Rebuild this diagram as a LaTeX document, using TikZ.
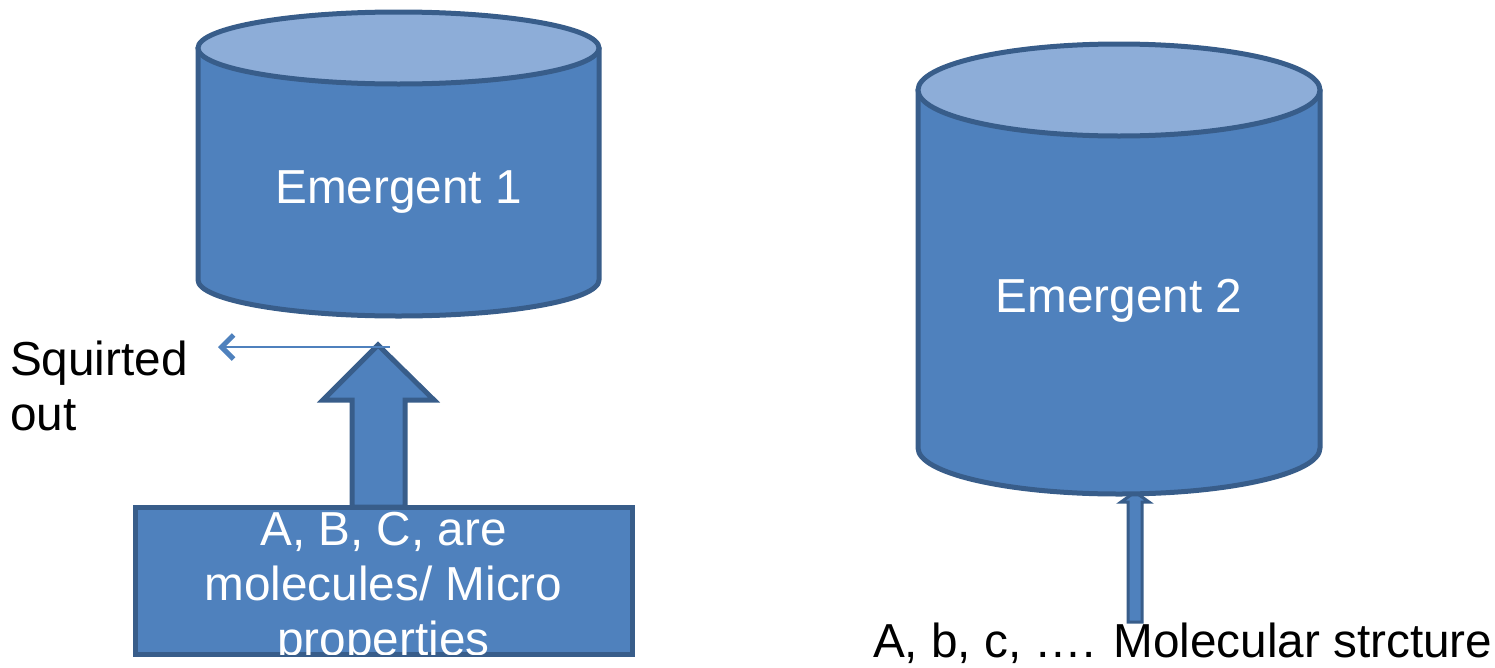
\documentclass[tikz,border=0pt]{standalone}
\usepackage{fontspec}
\setmainfont{Liberation Sans}
\usetikzlibrary{arrows.meta}
\definecolor{cylblue}{HTML}{4F81BD}
\definecolor{cylline}{HTML}{385D8A}
\definecolor{cyltopblue}{HTML}{8DADD8}
\tikzset{
  cylbody/.style={fill=cylblue,draw=cylline,line width=5pt,line join=round},
  cyltop/.style={fill=cyltopblue,draw=cylline,line width=5pt},
  blockarrow/.style={fill=cylblue,draw=cylline,line width=5pt,line join=miter},
  propbox/.style={fill=cylblue,draw=cylline,line width=5pt,minimum width=497pt,minimum height=147pt,inner sep=0pt},
  bigtext/.style={font=\fontsize{47.7}{55}\selectfont,inner sep=0pt,outer sep=0pt}
}
\begin{document}
\begin{tikzpicture}[x=1pt,y=-1pt]
\useasboundingbox (0,0) rectangle (1495,667);
% Thin block arrow into the right cylinder
\coordinate (molecarrow) at (1135,492);
\path[blockarrow,line width=3pt] (1128,622) -- (1128,502) -- (1121,502) -- (molecarrow) -- (1149,502) -- (1142,502) -- (1142,622) -- cycle;
% Cylinder left
\path[cylbody] (198,48) -- (198,280) arc[start angle=180,end angle=0,x radius=200.5,y radius=36] -- (599,48) -- cycle;
\path[cyltop] (398.5,48) ellipse[x radius=200.5,y radius=36];
% Cylinder right
\path[cylbody] (918,90) -- (918,448) arc[start angle=180,end angle=0,x radius=201,y radius=46] -- (1320,90) -- cycle;
\path[cyltop] (1119,90) ellipse[x radius=201,y radius=46];
% Labels in cylinders
\node[bigtext,text=white,anchor=base] (em1) at (398.5,203) {Emergent 1};
\node[bigtext,text=white,anchor=base] (em2) at (1119,312) {Emergent 2};
% Block arrow up from box
\coordinate (uptip) at (378,345);
\path[blockarrow] (352,507) -- (352,400) -- (323,400) -- (uptip) -- (434,400) -- (405,400) -- (405,507) -- cycle;
% Box of micro properties
\node[propbox] (props) at (383.5,580.5) {};
\begin{scope}
\clip (135,507) rectangle (632,654);
\node[bigtext,text=white,align=center,anchor=base] (proptext) at (383.5,655) {A, B, C, are\\molecules/ Micro\\properties};
\end{scope}
% Squirted out
\coordinate (squirtstart) at (390,347);
\node[bigtext,align=left,anchor=base west] (squirt) at (10,430) {Squirted\\out};
\coordinate (squirtend) at (218,347);
\draw[cylblue,line width=1.5pt,-{Straight Barb[length=12pt,width=24pt,line width=5pt]}] (squirtstart) -- (squirtend);
% Bottom label
\node[bigtext,anchor=base west] (molec) at (873,657) {A, b, c, …. Molecular strcture};
\end{tikzpicture}
\end{document}
